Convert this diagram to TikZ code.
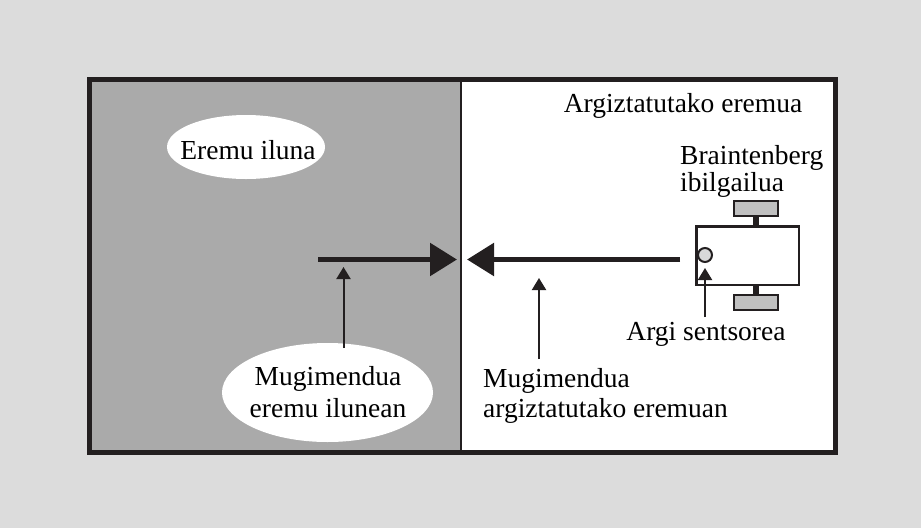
\documentclass[tikz,border=0pt]{standalone}
\usepackage{fontspec}
\setmainfont{Liberation Serif}
\usetikzlibrary{arrows.meta,shapes.geometric,calc}
\definecolor{paper}{HTML}{DCDCDC}
\definecolor{shadezone}{HTML}{AAAAAA}
\definecolor{ink}{HTML}{231F20}
\definecolor{wheelgray}{HTML}{C0C0C0}
\definecolor{sensorgray}{HTML}{D9D9D9}
\begin{document}
\begin{tikzpicture}[x=1pt,y=-1pt,
  lbl/.style={font=\fontsize{27.5}{30}\selectfont, inner sep=0pt, text=black},
  bubble/.style={ellipse, fill=white, draw=none, inner sep=0pt},
  bigarrow/.style={draw=ink, line width=5.5pt, -{Triangle[length=27pt,width=32pt]}},
  pointer/.style={draw=ink, line width=2pt, -{Triangle[length=12pt,width=14pt]}},
  wheel/.style={draw=ink, fill=wheelgray, line width=2pt, inner sep=0pt,
    minimum width=44pt, minimum height=15pt},
  axle/.style={draw=ink, line width=6pt},
]
\useasboundingbox (0,0) rectangle (921,528);
\fill[paper] (0,0) rectangle (921,528);

% dark and lit halves of the arena
\fill[shadezone] (89.5,79) rectangle (461,452.5);
\fill[white] (461,79) rectangle (835.5,452.5);
\draw[ink, line width=1.5pt] (461,79) -- (461,452.5);
\draw[ink, line width=5pt] (89.5,79) rectangle (835.5,452.5);

% labels in the dark half (base anchor = last line's baseline)
\node[bubble, minimum width=158pt, minimum height=64pt] (darkbubble) at (246,147) {};
\node[lbl, anchor=base] (darktext) at (248,159) {Eremu iluna};
\node[bubble, minimum width=211pt, minimum height=99pt] (movebubble) at (327.5,392.5) {};
\node[lbl, align=center, anchor=base, font=\fontsize{27.5}{32}\selectfont] (movetext) at (328,417) {Mugimendua\\eremu ilunean};

% labels in the lit half
\node[lbl, anchor=base] (littext) at (683,112) {Argiztatutako eremua};
\node[lbl, align=left, anchor=base west, font=\fontsize{27.5}{25}\selectfont] (vehtext) at (680,191) {Braintenberg\\ibilgailua};
\node[lbl, anchor=base] (sensortext) at (706,340) {Argi sentsorea};
\node[lbl, align=left, anchor=base west] (littmove) at (483,417) {Mugimendua\\argiztatutako eremuan};

% the vehicle
\node[draw=ink, line width=2.5pt, inner sep=0pt, minimum width=102.5pt, minimum height=58.5pt] (body) at (747.5,255.5) {};
\node[wheel] (topwheel) at (756,208.5) {};
\node[wheel] (botwheel) at (756,302.5) {};
\draw[axle] (topwheel.south) -- (topwheel.south |- body.north);
\draw[axle] (botwheel.north) -- (botwheel.north |- body.south);
\node[circle, draw=ink, fill=sensorgray, line width=2pt, minimum size=14pt, inner sep=0pt] (sensor) at (705,255) {};

% motion arrows
\coordinate (darkstart) at (318,259.5);
\coordinate (darktip) at (457,259.5);
\coordinate (litstart) at (680,259.5);
\coordinate (littip) at (467,259.5);
\draw[bigarrow] (darkstart) -- (darktip);
\draw[bigarrow] (litstart) -- (littip);

% pointers to the labels
\coordinate (darkpoint) at (343.5,267);
\coordinate (litpoint) at (539,278);
\coordinate (litfoot) at (539,359);
\draw[pointer] (darkpoint |- 0,348) -- (darkpoint);
\draw[pointer] (litfoot) -- (litpoint);
\draw[pointer] (705,317) -- ($(sensor.south)+(0,5)$);
\end{tikzpicture}
\end{document}
